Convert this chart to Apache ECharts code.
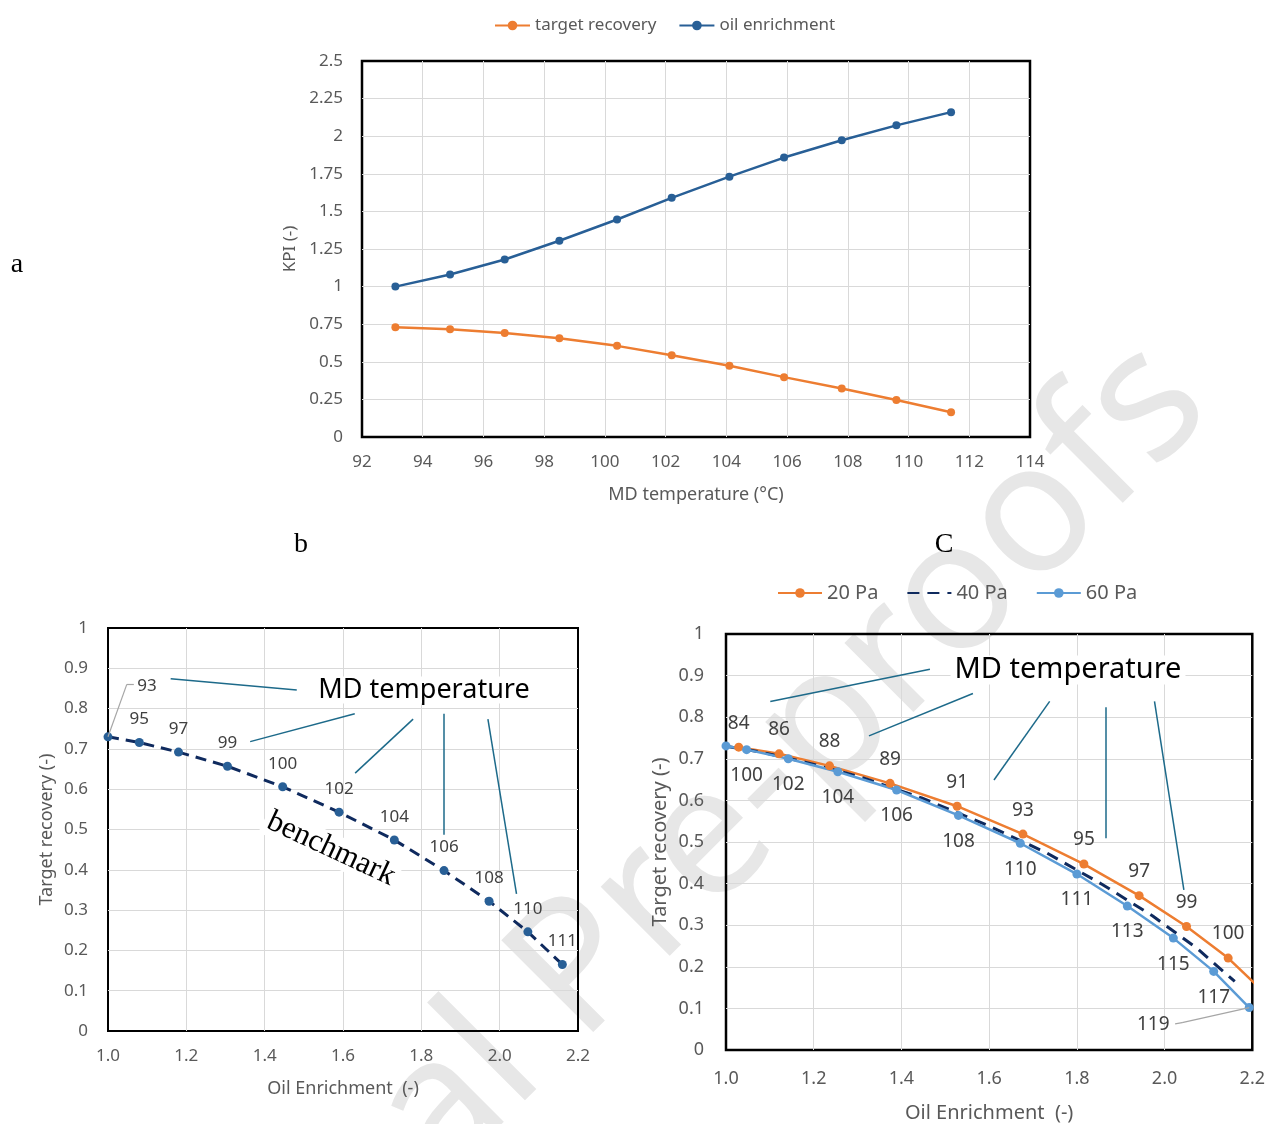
<!DOCTYPE html>
<html>
<head>
<meta charset="utf-8">
<script src="https://cdn.jsdelivr.net/npm/echarts@6/dist/echarts.min.js"></script>
<style>
html, body { margin: 0; padding: 0; background: #fff; }
#main { width: 1268px; height: 1124px; }
</style>
</head>
<body>
<div id="main"></div>
<script>
// panel a (and benchmark in b, 40 Pa in c)
const mdTemp = [93.1, 94.9, 96.7, 98.5, 100.4, 102.2, 104.1, 105.9, 107.8, 109.6, 111.4];
const oilEnrichment = [1.0, 1.08, 1.18, 1.305, 1.446, 1.59, 1.731, 1.858, 1.973, 2.072, 2.16];
const targetRecovery = [0.73, 0.716, 0.692, 0.657, 0.606, 0.543, 0.474, 0.398, 0.322, 0.246, 0.165];
const benchLabels = ['93', '95', '97', '99', '100', '102', '104', '106', '108', '110', '111'];

// panel c: 20 Pa and 60 Pa
const oil20 = [1.029, 1.121, 1.236, 1.374, 1.527, 1.677, 1.816, 1.942, 2.05, 2.145, 2.235];
const rec20 = [0.728, 0.712, 0.683, 0.641, 0.586, 0.519, 0.447, 0.371, 0.297, 0.221, 0.13];
const labels20 = ['84', '86', '88', '89', '91', '93', '95', '97', '99', '100', ''];
const oil60 = [1.0, 1.047, 1.142, 1.255, 1.389, 1.53, 1.671, 1.8, 1.915, 2.02, 2.112, 2.193];
const rec60 = [0.731, 0.722, 0.7, 0.669, 0.625, 0.564, 0.497, 0.423, 0.346, 0.269, 0.189, 0.102];
const labels60 = ['', '100', '102', '104', '106', '108', '110', '111', '113', '115', '117', '119'];

// leader lines for the "MD temperature" notes (data coords)
const leadersB = [
  [[1.16, 0.874], [1.482, 0.846]],
  [[1.363, 0.718], [1.63, 0.787]],
  [[1.631, 0.64], [1.779, 0.774]],
  [[1.856, 0.787], [1.856, 0.487]],
  [[1.97, 0.774], [2.043, 0.34]]
];
const leadersC = [
  [[1.101, 0.838], [1.465, 0.915]],
  [[1.326, 0.755], [1.563, 0.857]],
  [[1.611, 0.649], [1.738, 0.838]],
  [[1.866, 0.824], [1.866, 0.509]],
  [[1.977, 0.838], [2.044, 0.385]]
];
const pointer93 = [[1.0, 0.73], [1.048, 0.86], [1.066, 0.86]];
const pointer119 = [[2.024, 0.063], [2.04, 0.066], [2.193, 0.102]];

const ORANGE = '#ed7d31';
const DARKBLUE = '#285f96';
const NAVY = '#0f2a5e';
const LIGHTBLUE = '#5b9bd5';
const TEAL = '#1d6a8a';
const GRAY = '#595959';
const FONT = 'Noto Sans';

function pairs(xs, ys) {
  return xs.map((x, i) => [x, ys[i]]);
}

function segs(list, color, width) {
  return list.map(s => [
    { coord: s[0], lineStyle: { color: color, width: width, type: 'solid' } },
    { coord: s[1] }
  ]);
}

function polyline(pts) {
  const out = [];
  for (let i = 0; i < pts.length - 1; i++) out.push([pts[i], pts[i + 1]]);
  return out;
}

function axis(gridIndex, min, max, interval, name, fs, nameFs, nameGap, margin, fmt) {
  return {
    type: 'value',
    gridIndex: gridIndex,
    min: min,
    max: max,
    interval: interval,
    name: name,
    nameLocation: 'middle',
    nameGap: nameGap,
    nameTextStyle: { color: GRAY, fontSize: nameFs, fontFamily: FONT },
    axisLine: { show: false },
    axisTick: { show: false },
    axisLabel: { color: GRAY, fontSize: fs, fontFamily: FONT, margin: margin, formatter: fmt },
    splitLine: {
      show: true,
      showMinLine: false,
      showMaxLine: false,
      lineStyle: { color: '#d9d9d9', width: 1 }
    }
  };
}

function note(text, x, y, font, rot, bg) {
  return {
    type: 'text', x: x, y: y, rotation: (rot || 0) * Math.PI / 180, z: 100,
    style: {
      text: text, font: font, fill: '#000',
      backgroundColor: bg ? '#fff' : null, padding: bg ? [0, 4] : 0,
      textAlign: 'center', textVerticalAlign: 'middle', align: 'center', verticalAlign: 'middle'
    }
  };
}

const fix1 = v => v.toFixed(1);

const chart = echarts.init(document.getElementById('main'));

chart.setOption({
  animation: false,
  backgroundColor: '#fff',
  grid: [
    { left: 362, top: 61, width: 668, height: 376, show: true, borderColor: '#000', borderWidth: 2.5 },
    { left: 108, top: 628, width: 470, height: 403, show: true, borderColor: '#000', borderWidth: 2 },
    { left: 726, top: 634, width: 527, height: 416, show: true, borderColor: '#000', borderWidth: 2.5 }
  ],
  xAxis: [
    axis(0, 92, 114, 2, 'MD temperature (°C)', 17, 18, 49, 17),
    axis(1, 1.0, 2.2, 0.2, 'Oil Enrichment  (-)', 17, 18, 49, 17, fix1),
    axis(2, 1.0, 2.2, 0.2, 'Oil Enrichment  (-)', 18, 20, 53, 20, fix1)
  ],
  yAxis: [
    axis(0, 0, 2.5, 0.25, 'KPI (-)', 17, 17, 61, 19),
    axis(1, 0, 1, 0.1, 'Target recovery (-)', 17, 18, 52, 20),
    axis(2, 0, 1, 0.1, 'Target recovery (-)', 18, 20, 56, 22)
  ],
  legend: [
    {
      data: ['target recovery', 'oil enrichment'],
      left: 489, top: 12,
      itemWidth: 35, itemHeight: 12, itemGap: 22,
      textStyle: { color: GRAY, fontSize: 17, fontFamily: FONT }
    },
    {
      data: ['20 Pa', { name: '40 Pa', itemStyle: { opacity: 0 } }, '60 Pa'],
      left: 772, top: 578,
      itemWidth: 44, itemHeight: 12, itemGap: 28,
      textStyle: { color: GRAY, fontSize: 20, fontFamily: FONT }
    }
  ],
  series: [
    {
      name: 'target recovery', type: 'line', xAxisIndex: 0, yAxisIndex: 0,
      data: pairs(mdTemp, targetRecovery),
      symbol: 'circle', symbolSize: 8,
      itemStyle: { color: ORANGE },
      lineStyle: { color: ORANGE, width: 2.5 }
    },
    {
      name: 'oil enrichment', type: 'line', xAxisIndex: 0, yAxisIndex: 0,
      data: pairs(mdTemp, oilEnrichment),
      symbol: 'circle', symbolSize: 8,
      itemStyle: { color: DARKBLUE },
      lineStyle: { color: DARKBLUE, width: 2.5 }
    },
    {
      name: 'benchmark', type: 'line', xAxisIndex: 1, yAxisIndex: 1,
      data: pairs(oilEnrichment, targetRecovery).map((v, i) =>
        i === 0 ? { value: v, label: { position: 'inside', offset: [39, -51] } } : v),
      symbol: 'circle', symbolSize: 9,
      itemStyle: { color: DARKBLUE },
      lineStyle: { color: NAVY, width: 3, type: [11, 7] },
      label: {
        show: true, position: 'top', distance: 10,
        color: '#404040', fontSize: 17, fontFamily: FONT,
        formatter: p => benchLabels[p.dataIndex]
      },
      markLine: {
        silent: true, symbol: ['none', 'none'], label: { show: false },
        data: segs(leadersB, TEAL, 1.5).concat(segs(polyline(pointer93), '#a6a6a6', 1.2))
      }
    },
    {
      name: '20 Pa', type: 'line', xAxisIndex: 2, yAxisIndex: 2,
      data: pairs(oil20, rec20),
      symbol: 'circle', symbolSize: 9,
      itemStyle: { color: ORANGE },
      lineStyle: { color: ORANGE, width: 2.5 },
      label: {
        show: true, position: 'top', distance: 10,
        color: '#404040', fontSize: 19, fontFamily: FONT,
        formatter: p => labels20[p.dataIndex]
      }
    },
    {
      name: '40 Pa', type: 'line', xAxisIndex: 2, yAxisIndex: 2,
      data: pairs(oilEnrichment, targetRecovery),
      symbol: 'none',
      itemStyle: { color: NAVY },
      lineStyle: { color: NAVY, width: 3, type: [12, 8] },
      markLine: {
        silent: true, symbol: ['none', 'none'], label: { show: false },
        data: segs(leadersC, TEAL, 1.5)
      }
    },
    {
      name: '60 Pa', type: 'line', xAxisIndex: 2, yAxisIndex: 2,
      data: pairs(oil60, rec60).map((v, i) =>
        i === oil60.length - 1 ? { value: v, label: { position: 'inside', offset: [-96, 17] } } : v),
      symbol: 'circle', symbolSize: 9,
      itemStyle: { color: LIGHTBLUE },
      lineStyle: { color: LIGHTBLUE, width: 2.5 },
      label: {
        show: true, position: 'bottom', distance: 12,
        color: '#404040', fontSize: 19, fontFamily: FONT,
        formatter: p => labels60[p.dataIndex]
      },
      markLine: {
        silent: true, symbol: ['none', 'none'], label: { show: false },
        data: segs(polyline(pointer119), '#a6a6a6', 1.2)
      }
    }
  ],
  graphic: [
    {
      type: 'text', x: 629, y: 923, rotation: 45 * Math.PI / 180, z: -10, silent: true,
      style: {
        text: 'Journal Pre-proofs', font: '182px "Noto Sans"', fill: '#e7e7e7',
        textAlign: 'center', textVerticalAlign: 'middle', align: 'center', verticalAlign: 'middle'
      }
    },
    note('a', 17, 265, '28px "Liberation Serif"'),
    note('b', 301, 545, '28px "Liberation Serif"'),
    note('C', 944, 545, '28px "Liberation Serif"'),
    note('MD temperature', 424, 690, '27px "Noto Sans"', 0, true),
    note('MD temperature', 1068, 670, '29px "Noto Sans"', 0, true),
    note('benchmark', 331, 849, '31px "Liberation Serif"', -25, true)
  ]
});
</script>
</body>
</html>
